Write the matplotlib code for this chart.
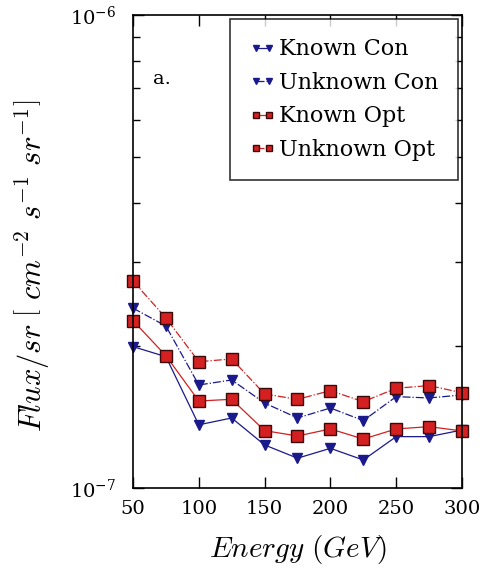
import numpy as np
import matplotlib
matplotlib.use("Agg")
import matplotlib.pyplot as plt
import matplotlib.ticker as ticker

plt.rcParams["font.family"] = "DejaVu Serif"
plt.rcParams["mathtext.fontset"] = "cm"

# Energy bins (GeV)
energy = [50, 75, 100, 125, 150, 175, 200, 225, 250, 275, 300]

# Flux/sr values
known_con = [1.99e-7, 1.895e-7, 1.36e-7, 1.406e-7, 1.233e-7, 1.156e-7,
             1.213e-7, 1.146e-7, 1.284e-7, 1.284e-7, 1.326e-7]
unknown_con = [2.40e-7, 2.20e-7, 1.651e-7, 1.692e-7, 1.512e-7, 1.406e-7,
               1.476e-7, 1.388e-7, 1.56e-7, 1.55e-7, 1.573e-7]
known_opt = [2.258e-7, 1.904e-7, 1.527e-7, 1.54e-7, 1.322e-7, 1.288e-7,
             1.333e-7, 1.269e-7, 1.333e-7, 1.348e-7, 1.32e-7]
unknown_opt = [2.739e-7, 2.288e-7, 1.849e-7, 1.874e-7, 1.58e-7, 1.54e-7,
               1.606e-7, 1.522e-7, 1.625e-7, 1.646e-7, 1.59e-7]

BLUE = "#1a1a8c"
RED = "#d42020"

fig = plt.figure(figsize=(4.81, 5.70), dpi=100)
ax = fig.add_axes([0.2765, 0.1439, 0.684, 0.8298])

ax.plot(energy, known_con, "-v", color=BLUE, lw=0.9, ms=7,
        mfc=BLUE, mec=BLUE, label="Known Con", clip_on=False)
ax.plot(energy, unknown_con, "-.v", color=BLUE, lw=0.9, ms=7,
        mfc=BLUE, mec=BLUE, label="Unknown Con", clip_on=False)
ax.plot(energy, known_opt, "-s", color=RED, lw=0.9, ms=8,
        mfc=RED, mec="#3a0a0a", mew=1.0, label="Known Opt", clip_on=False)
ax.plot(energy, unknown_opt, "-.s", color=RED, lw=0.9, ms=8,
        mfc=RED, mec="#3a0a0a", mew=1.0, label="Unknown Opt", clip_on=False)

ax.set_yscale("log")
ax.set_ylim(1e-7, 1e-6)
ax.set_xlim(50, 300)
ax.xaxis.set_major_locator(ticker.MultipleLocator(50))
ax.yaxis.set_major_locator(ticker.LogLocator(base=10, numticks=3))
ax.yaxis.set_minor_formatter(ticker.NullFormatter())

ax.tick_params(which="both", direction="in", top=True, right=True,
               labelsize=14, width=1.0)
ax.tick_params(which="major", length=8)
ax.tick_params(which="minor", length=5)
ax.tick_params(axis="x", which="major", pad=9)
ax.tick_params(axis="y", which="major", pad=12)
for sp in ax.spines.values():
    sp.set_linewidth(1.2)

ax.set_xlabel(r"$Energy\ (GeV)$", fontsize=21)
ax.set_ylabel(r"$Flux/sr\ \left[\ cm^{-2}\ s^{-1}\ sr^{-1}\right]$",
              fontsize=22)
ax.xaxis.set_label_coords(0.5, -0.095)
ax.yaxis.set_label_coords(-0.25, 0.47)

ax.text(0.06, 0.855, "a.", transform=ax.transAxes, fontsize=14)

leg = ax.legend(loc="upper right", fontsize=16, frameon=True, fancybox=False,
                edgecolor="black", handlelength=1.2, handletextpad=0.15,
                borderpad=0.85, labelspacing=0.52, borderaxespad=0.2,
                markerscale=0.55, numpoints=2)
leg.get_frame().set_linewidth(1.2)

fig.savefig("out.png", dpi=100)
